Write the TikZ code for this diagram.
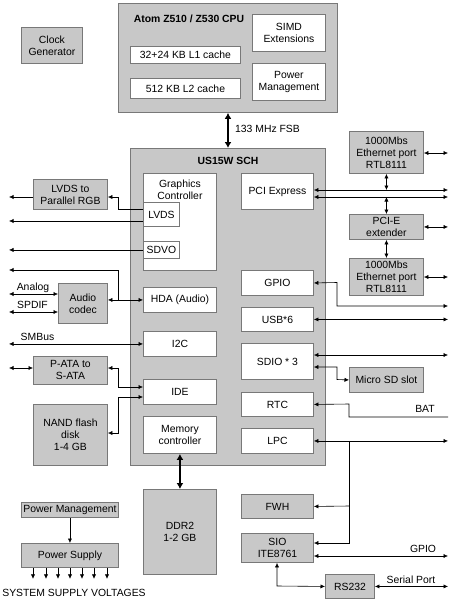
\documentclass[tikz,border=0pt]{standalone}
\usepackage{fontspec}
\setmainfont{Liberation Sans}
\usetikzlibrary{arrows.meta}
\definecolor{boxfill}{RGB}{200,200,200}
\definecolor{boxline}{RGB}{120,120,120}
\tikzset{
 fnt/.style={font=\fontsize{10.4}{12}\selectfont},
 gbox/.style={draw=boxline, fill=boxfill, line width=0.9pt, align=center, inner sep=1pt, anchor=north west, fnt},
 wbox/.style={gbox, fill=white},
 ah/.tip={Latex[length=4.5pt,width=4.2pt]},
 bh/.tip={Latex[length=6pt,width=7pt]},
 con/.style={line width=0.6pt, black},
 ra/.style={con, -ah},
 la/.style={con, ah-},
 da/.style={con, ah-ah},
 bus/.style={line width=2pt, bh-bh},
 lbl/.style={fnt, inner sep=0pt},
 ttl/.style={font=\fontsize{10.4}{12}\selectfont\bfseries, inner sep=0pt},
}
\begin{document}
\begin{tikzpicture}[x=1pt,y=-1pt]
\useasboundingbox (0,0) rectangle (450,602);
\coordinate (L) at (9,0);
\coordinate (R) at (448,0);
% CPU
\node[gbox, minimum width=61pt, minimum height=36pt] (clock) at (21,27) {Clock\\Generator};
\node[gbox, minimum width=219pt, minimum height=109pt] (cpu) at (118,3) {};
\node[ttl] (cputitle) at (189,19) {Atom Z510 / Z530 CPU};
\node[wbox, minimum width=110pt, minimum height=17pt] (l1) at (130,46) {32+24 KB L1 cache};
\node[wbox, minimum width=110pt, minimum height=20pt] (l2) at (130,78) {512 KB L2 cache};
\node[wbox, minimum width=73pt, minimum height=37pt] (simd) at (252,14) {SIMD\\Extensions};
\node[wbox, minimum width=73pt, minimum height=37pt] (cpupm) at (252,63) {Power\\Management};
% SCH
\node[gbox, minimum width=195pt, minimum height=317pt] (sch) at (130,148) {};
\node[ttl] (schtitle) at (228,161) {US15W SCH};
\node[wbox, minimum width=73pt, minimum height=97pt,
  label={[fnt, align=center, anchor=north, inner sep=0pt, yshift=-6.5pt]north:Graphics\\Controller}] (gfx) at (143,173) {};
\node[wbox, minimum width=36pt, minimum height=24pt] (lvds) at (143,202) {LVDS};
\node[wbox, minimum width=36pt, minimum height=17pt] (sdvo) at (143,241) {SDVO};
\node[wbox, minimum width=73pt, minimum height=25pt] (hda) at (143,287) {HDA (Audio)};
\node[wbox, minimum width=73pt, minimum height=25pt] (i2c) at (143,331) {I2C};
\node[wbox, minimum width=73pt, minimum height=25pt] (ide) at (143,379) {IDE};
\node[wbox, minimum width=73pt, minimum height=37pt] (memc) at (143,416) {Memory\\controller};
\node[wbox, minimum width=72pt, minimum height=36pt] (pcie) at (241,173) {PCI Express};
\node[wbox, minimum width=72pt, minimum height=25pt] (gpio) at (241,270) {GPIO};
\node[wbox, minimum width=72pt, minimum height=24pt] (usb) at (241,307) {USB*6};
\node[wbox, minimum width=72pt, minimum height=36pt] (sdio) at (241,343) {SDIO * 3};
\node[wbox, minimum width=72pt, minimum height=24pt] (rtc) at (241,392) {RTC};
\node[wbox, minimum width=72pt, minimum height=25pt] (lpc) at (241,428) {LPC};
% left side
\node[gbox, minimum width=74pt, minimum height=30pt] (lvdsrgb) at (33,179) {LVDS to\\Parallel RGB};
\node[gbox, minimum width=49pt, minimum height=40pt] (codec) at (58,283) {Audio\\codec};
\node[gbox, minimum width=74pt, minimum height=28pt] (pata) at (33,356) {P-ATA to\\S-ATA};
\node[gbox, minimum width=74pt, minimum height=61pt] (nand) at (33,404) {NAND flash\\disk\\1-4 GB};
\node[gbox, minimum width=73pt, minimum height=85pt] (ddr) at (143,489) {DDR2\\1-2 GB};
\node[gbox, minimum width=97pt, minimum height=15pt] (pwm) at (21,502) {Power Management};
\node[gbox, minimum width=97pt, minimum height=24pt] (psu) at (21,543) {Power Supply};
% right side
\node[gbox, minimum width=74pt, minimum height=42pt] (eth1) at (349,131) {1000Mbs\\Ethernet port\\RTL8111};
\node[gbox, minimum width=74pt, minimum height=25pt] (pcix) at (349,214) {PCI-E\\extender};
\node[gbox, minimum width=74pt, minimum height=37pt] (eth2) at (349,258) {1000Mbs\\Ethernet port\\RTL8111};
\node[gbox, minimum width=74pt, minimum height=25pt] (msd) at (349,367) {Micro SD slot};
\node[gbox, minimum width=72pt, minimum height=24pt] (fwh) at (241,494) {FWH};
\node[gbox, minimum width=72pt, minimum height=29pt] (sio) at (241,533) {SIO\\ITE8761};
\node[gbox, minimum width=49pt, minimum height=24pt] (rs232) at (325,574) {RS232};
% buses
\draw[bus] (cpu.south -| 228,0) -- (sch.north -| 228,0);
\node[lbl] (fsb) at (267.5,129) {133 MHz FSB};
\draw[bus] (memc.south) -- (ddr.north);
% left connectors
\draw[ra] (lvdsrgb.west |- 0,197) -- (L |- 0,197);
\draw[ra] (lvds.west |- 0,209) -- (118,209) -- (118,197) -- (lvdsrgb.east |- 0,197);
\draw[ra] (lvds.west |- 0,221) -- (L |- 0,221);
\draw[ra] (sdvo.west) -- (L |- sdvo.west);
\draw[da] (codec.east |- hda.west) -- (hda.west);
\draw[ra] (118,299.5) -- (118,270) -- (L |- 0,270);
\draw[da] (L |- 0,294) -- (codec.west |- 0,294);
\node[lbl] (analog) at (33,288) {Analog};
\draw[da] (L |- 0,312) -- (codec.west |- 0,312);
\node[lbl] (spdif) at (32.5,305) {SPDIF};
\draw[da] (L |- i2c.west) -- (i2c.west);
\node[lbl] (smbus) at (37.5,337) {SMBus};
\draw[da] (L |- 0,368) -- (pata.west |- 0,368);
\draw[da] (pata.east |- 0,368) -- (118,368) -- (118,387) -- (ide.west |- 0,387);
\draw[da] (nand.east |- 0,433) -- (118,433) -- (118,397) -- (ide.west |- 0,397);
% power
\draw[ra] (pwm.south) -- (psu.north);
\foreach \x in {33,46,58,70,82,94,107} \draw[ra] (psu.south -| \x,0) -- ++(0,11);
\node[lbl] (sysv) at (74,593) {SYSTEM SUPPLY VOLTAGES};
% right connectors
\draw[da] (eth1.east |- 0,153) -- (R |- 0,153);
\draw[da] (pcie.east |- 0,190) -- (R |- 0,190);
\draw[da] (pcie.east |- 0,197) -- (R |- 0,197);
\draw[da] (eth1.south) -- (eth1.south |- 0,190);
\draw[da] (pcix.north |- 0,197) -- (pcix.north);
\draw[da] (pcix.south) -- (eth2.north);
\draw[da] (pcix.east) -- (R |- pcix.east);
\draw[da] (eth2.east |- 0,277) -- (R |- 0,277);
\draw[da] (gpio.east) -- (337,282.5) -- (337,306) -- (R |- 0,306);
\draw[da] (usb.east) -- (R |- usb.east);
\draw[da] (sdio.east |- 0,355) -- (R |- 0,355);
\draw[da] (sdio.east |- 0,367) -- (337,367) -- (337,379.5) -- (msd.west);
\draw[la] (rtc.east) -- (349,404) -- (349,417) -- (R |- 0,417);
\node[lbl] (bat) at (425,409) {BAT};
\draw[da] (lpc.east) -- (R |- lpc.east);
\draw[ra] (lpc.east -| 349,0) -- (349,543) -- (sio.east |- 0,543);
\draw[ra] (349,506) -- (fwh.east);
\draw[da] (sio.east |- 0,556) -- (R |- 0,556);
\node[lbl] (gpiolbl) at (423,549) {GPIO};
\draw[da] (sio.south -| 277,0) -- (277,586) -- (rs232.west);
\draw[da] (rs232.east) -- (R |- rs232.east);
\node[lbl] (serial) at (411,580) {Serial Port};
\end{tikzpicture}
\end{document}
